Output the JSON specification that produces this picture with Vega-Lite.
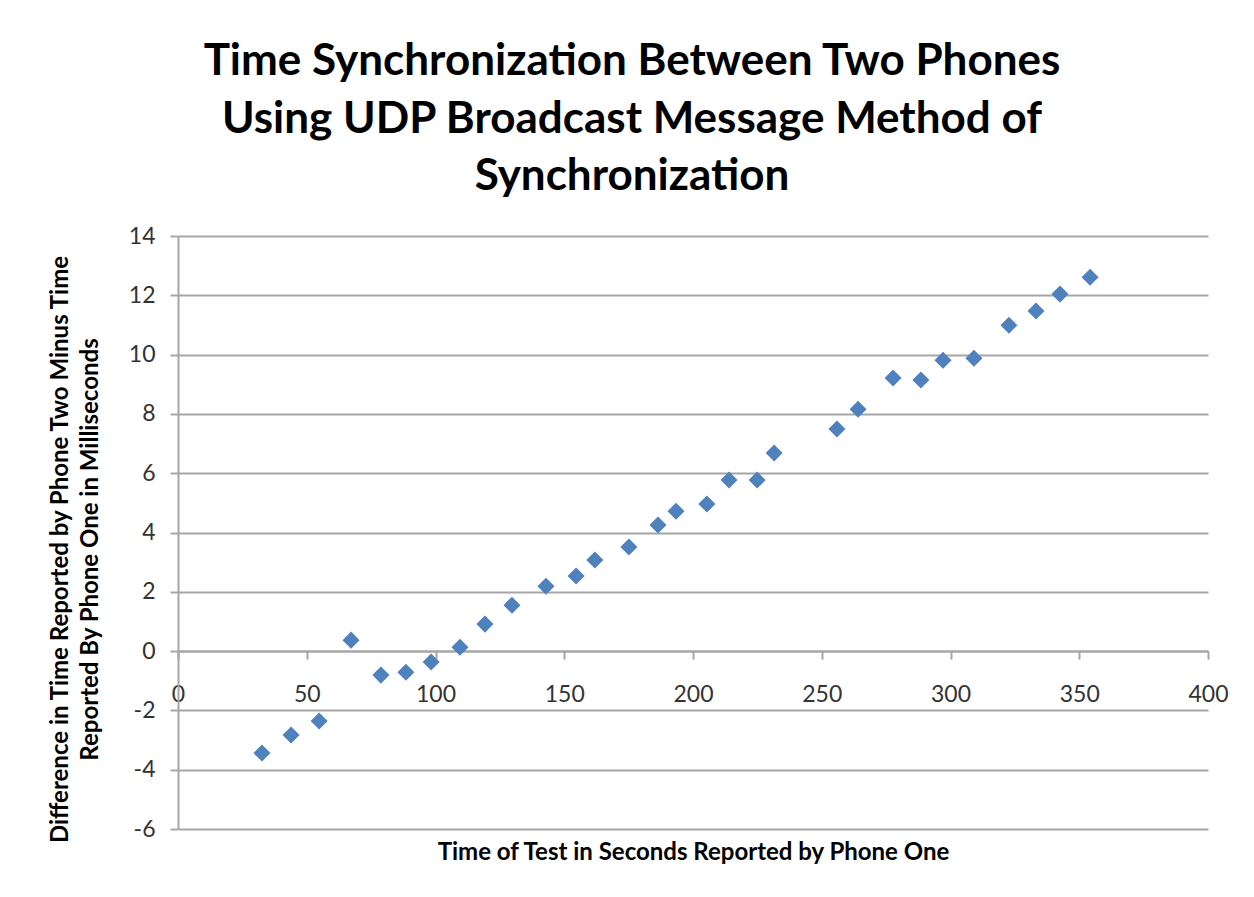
{
  "$schema": "https://vega.github.io/schema/vega-lite/v6.json",
  "width": 1030,
  "height": 593,
  "autosize": {"type": "none"},
  "padding": {"left": 178, "top": 236, "right": 46, "bottom": 68},
  "background": "white",
  "title": {
    "text": ["Time Synchronization Between Two Phones", "Using UDP Broadcast Message Method of", "Synchronization"],
    "font": "Lato",
    "fontSize": 44,
    "fontWeight": "bold",
    "color": "#000000",
    "lineHeight": 57.5,
    "anchor": "middle",
    "dx": -61,
    "offset": 26
  },
  "config": {
    "view": {"stroke": null},
    "axis": {"labelFont": "Lato", "titleFont": "Lato"}
  },
  "data": {
    "values": [
      {"t": 32.6, "d": -3.44},
      {"t": 43.9, "d": -2.83},
      {"t": 54.8, "d": -2.36},
      {"t": 67.2, "d": 0.37},
      {"t": 78.8, "d": -0.81},
      {"t": 88.5, "d": -0.71},
      {"t": 98.3, "d": -0.37},
      {"t": 109.5, "d": 0.13},
      {"t": 119.2, "d": 0.91},
      {"t": 129.7, "d": 1.55},
      {"t": 142.9, "d": 2.19},
      {"t": 154.6, "d": 2.53},
      {"t": 161.9, "d": 3.07},
      {"t": 175.1, "d": 3.51},
      {"t": 186.4, "d": 4.25},
      {"t": 193.4, "d": 4.72},
      {"t": 205.4, "d": 4.96},
      {"t": 214.0, "d": 5.77},
      {"t": 224.9, "d": 5.77},
      {"t": 231.5, "d": 6.68},
      {"t": 255.9, "d": 7.49},
      {"t": 264.1, "d": 8.16},
      {"t": 277.7, "d": 9.21},
      {"t": 288.5, "d": 9.14},
      {"t": 297.1, "d": 9.81},
      {"t": 309.1, "d": 9.88},
      {"t": 322.7, "d": 10.99},
      {"t": 333.2, "d": 11.47},
      {"t": 342.5, "d": 12.04},
      {"t": 354.2, "d": 12.61}
    ]
  },
  "mark": {"type": "point", "shape": "diamond", "filled": true, "size": 290, "color": "#4F81BD", "opacity": 1},
  "encoding": {
    "x": {
      "field": "t",
      "type": "quantitative",
      "scale": {"domain": [0, 400], "nice": false, "zero": false},
      "axis": {
        "values": [0, 50, 100, 150, 200, 250, 300, 350, 400],
        "labelExpr": "toString(datum.value)",
        "title": "Time of Test in Seconds Reported by Phone One",
        "titleFontSize": 24,
        "titleFontWeight": "bold",
        "titleColor": "#000000",
        "titleBaseline": "alphabetic",
        "titleY": 208,
        "offset": -177.9,
        "grid": false,
        "domainColor": "#A6A6A6",
        "domainWidth": 2,
        "tickColor": "#A6A6A6",
        "tickWidth": 2,
        "tickSize": 8,
        "labelFontSize": 23,
        "labelColor": "#333333",
        "labelBaseline": "alphabetic",
        "labelPadding": 42,
        "labelFlush": false,
        "labelOverlap": false
      }
    },
    "y": {
      "field": "d",
      "type": "quantitative",
      "scale": {"domain": [-6, 14], "nice": false, "zero": false},
      "axis": {
        "values": [-6, -4, -2, 0, 2, 4, 6, 8, 10, 12, 14],
        "labelExpr": "toString(datum.value)",
        "title": ["Difference in Time Reported by Phone Two Minus Time", "Reported By Phone One in Milliseconds"],
        "titleFontSize": 24,
        "titleFontWeight": "bold",
        "titleColor": "#000000",
        "titleAngle": -90,
        "titleAlign": "center",
        "titleBaseline": "middle",
        "titleLineHeight": 30,
        "titleX": -118,
        "titleY": 313,
        "grid": true,
        "gridColor": "#A6A6A6",
        "gridWidth": 2,
        "domainColor": "#A6A6A6",
        "domainWidth": 2,
        "tickColor": "#A6A6A6",
        "tickWidth": 2,
        "tickSize": 8,
        "labelFontSize": 23,
        "labelColor": "#333333",
        "labelPadding": 15,
        "labelFlush": false,
        "labelOverlap": false
      }
    }
  }
}
